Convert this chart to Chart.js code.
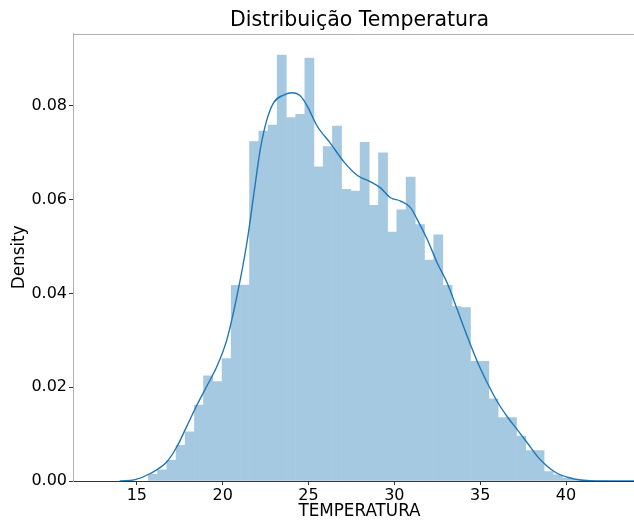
<!DOCTYPE html>
<html>
<head>
<meta charset="utf-8">
<script src="https://cdn.jsdelivr.net/npm/chart.js@4.4.1/dist/chart.umd.min.js"></script>
<style>
  html, body { margin: 0; padding: 0; background: #ffffff; overflow: hidden; }
  #wrap { width: 634px; height: 522px; overflow: hidden; }
</style>
</head>
<body>
<div id="wrap"><canvas id="c" width="646" height="522"></canvas></div>
<script>
// ---- data ----
const binCenters = [15.94,16.47,17.01,17.55,18.08,18.62,19.15,19.69,20.23,20.76,
  21.30,21.83,22.37,22.91,23.44,23.98,24.52,25.05,25.59,26.12,
  26.66,27.20,27.73,28.27,28.81,29.34,29.88,30.41,30.95,31.49,
  32.02,32.56,33.10,33.63,34.17,34.71,35.24,35.78,36.31,36.85,
  37.39,37.92,38.46,38.99,39.53,40.07,40.60,41.14,41.68,42.21];
const binDensity = [0.0014,0.0024,0.0044,0.0076,0.0105,0.0162,0.0224,0.0212,0.0261,0.0417,
  0.0418,0.0724,0.0746,0.0759,0.0908,0.0775,0.0782,0.0902,0.0670,0.0713,
  0.0757,0.0622,0.0618,0.0722,0.0588,0.0700,0.0531,0.0578,0.0648,0.0547,
  0.0471,0.0525,0.0417,0.0372,0.0370,0.0255,0.0255,0.0175,0.0135,0.0135,
  0.0096,0.0065,0.0065,0.0020,0.0013,0.0006,0.0003,0.0002,0.0001,0.0001];
const kdeX = [14.0,14.9,15.78,16.75,17.33,17.9,18.5,19.07,19.66,20.24,20.83,21.41,21.8,22.19,22.58,22.97,
  23.55,24.04,24.53,24.92,25.5,26.28,27.05,27.83,28.61,29.19,29.78,30.36,30.94,31.33,31.92,32.5,
  33.08,33.67,34.25,34.83,35.42,36.0,36.58,37.17,37.75,38.34,38.92,39.5,40.09,40.86,41.84,44.0];
const kdeY = [0.0000,0.0003,0.0016,0.0041,0.0073,0.0116,0.0162,0.0202,0.0244,0.0301,0.0394,0.0508,0.0608,0.0707,0.0771,0.0807,
  0.0823,0.0828,0.0821,0.0800,0.0757,0.0720,0.0681,0.0652,0.0638,0.0625,0.0604,0.0597,0.0583,0.0558,0.0515,0.0465,
  0.0422,0.0365,0.0308,0.0255,0.0209,0.0169,0.0137,0.0109,0.0081,0.0052,0.0031,0.0016,0.0008,0.0002,0.0000,0.0000];
const xTickValues = [15, 20, 25, 30, 35, 40];
const yTickValues = [0, 0.02, 0.04, 0.06, 0.08];
const titleText = 'Distribuição Temperatura';
const xLabel = 'TEMPERATURA';
const yLabel = 'Density';

// ---- chart ----
const FONT = 'DejaVu Sans';
const frameSpines = {
  id: 'frameSpines',
  afterDraw(chart) {
    const a = chart.chartArea, ctx = chart.ctx;
    ctx.save();
    ctx.strokeStyle = '#b0b0b0';
    ctx.lineWidth = 1;
    ctx.beginPath();
    ctx.moveTo(a.left, Math.round(a.top) + 0.5);
    ctx.lineTo(a.right, Math.round(a.top) + 0.5);
    ctx.moveTo(Math.round(a.right) - 0.5, a.top);
    ctx.lineTo(Math.round(a.right) - 0.5, a.bottom);
    ctx.stroke();
    ctx.restore();
  }
};

new Chart(document.getElementById('c'), {
  type: 'bar',
  data: {
    datasets: [
      {
        type: 'line',
        data: kdeX.map((x, i) => ({ x: x, y: kdeY[i] })),
        borderColor: '#1f77b4',
        borderWidth: 1.4,
        pointRadius: 0,
        cubicInterpolationMode: 'monotone',
        fill: false,
        order: 0
      },
      {
        type: 'bar',
        data: binCenters.map((x, i) => ({ x: x, y: binDensity[i] })),
        backgroundColor: '#a5c9e1',
        borderWidth: 0,
        barPercentage: 1.0,
        categoryPercentage: 1.0,
        grouped: false,
        order: 1
      }
    ]
  },
  plugins: [frameSpines],
  options: {
    responsive: false,
    animation: false,
    layout: { padding: { top: 0, left: 0, right: 0, bottom: 0 } },
    plugins: {
      legend: { display: false },
      tooltip: { enabled: false },
      title: {
        display: true,
        fullSize: false,
        text: titleText,
        color: '#000',
        font: { family: FONT, size: 20.5, weight: 'normal' },
        padding: { top: 8, bottom: 1 }
      }
    },
    scales: {
      x: {
        type: 'linear',
        min: 11.28,
        max: 44.66,
        offset: false,
        afterFit: s => { s.height = 41; },
        afterBuildTicks: s => { s.ticks = xTickValues.map(v => ({ value: v })); },
        ticks: {
          color: '#000',
          font: { family: FONT, size: 16 },
          padding: 1,
          maxRotation: 0,
          autoSkip: false,
          callback: v => String(v)
        },
        grid: { offset: false, drawOnChartArea: false, tickLength: 4, tickColor: '#333' },
        border: { display: true, color: '#333', width: 1 },
        title: {
          display: true,
          text: xLabel,
          color: '#000',
          font: { family: FONT, size: 16.8 },
          padding: { top: 0, bottom: 0 }
        }
      },
      y: {
        type: 'linear',
        min: 0,
        max: 0.0954,
        afterFit: s => { s.width = 73; },
        afterBuildTicks: s => { s.ticks = yTickValues.map(v => ({ value: v })); },
        ticks: {
          color: '#000',
          font: { family: FONT, size: 16 },
          padding: 2,
          autoSkip: false,
          callback: v => Number(v).toFixed(2)
        },
        grid: { drawOnChartArea: false, tickLength: 4, tickColor: '#333' },
        border: { display: true, color: '#b0b0b0', width: 1 },
        title: {
          display: true,
          text: yLabel,
          color: '#000',
          font: { family: FONT, size: 16.8 },
          padding: { top: 10, bottom: 0 }
        }
      }
    }
  }
});
</script>
</body>
</html>
